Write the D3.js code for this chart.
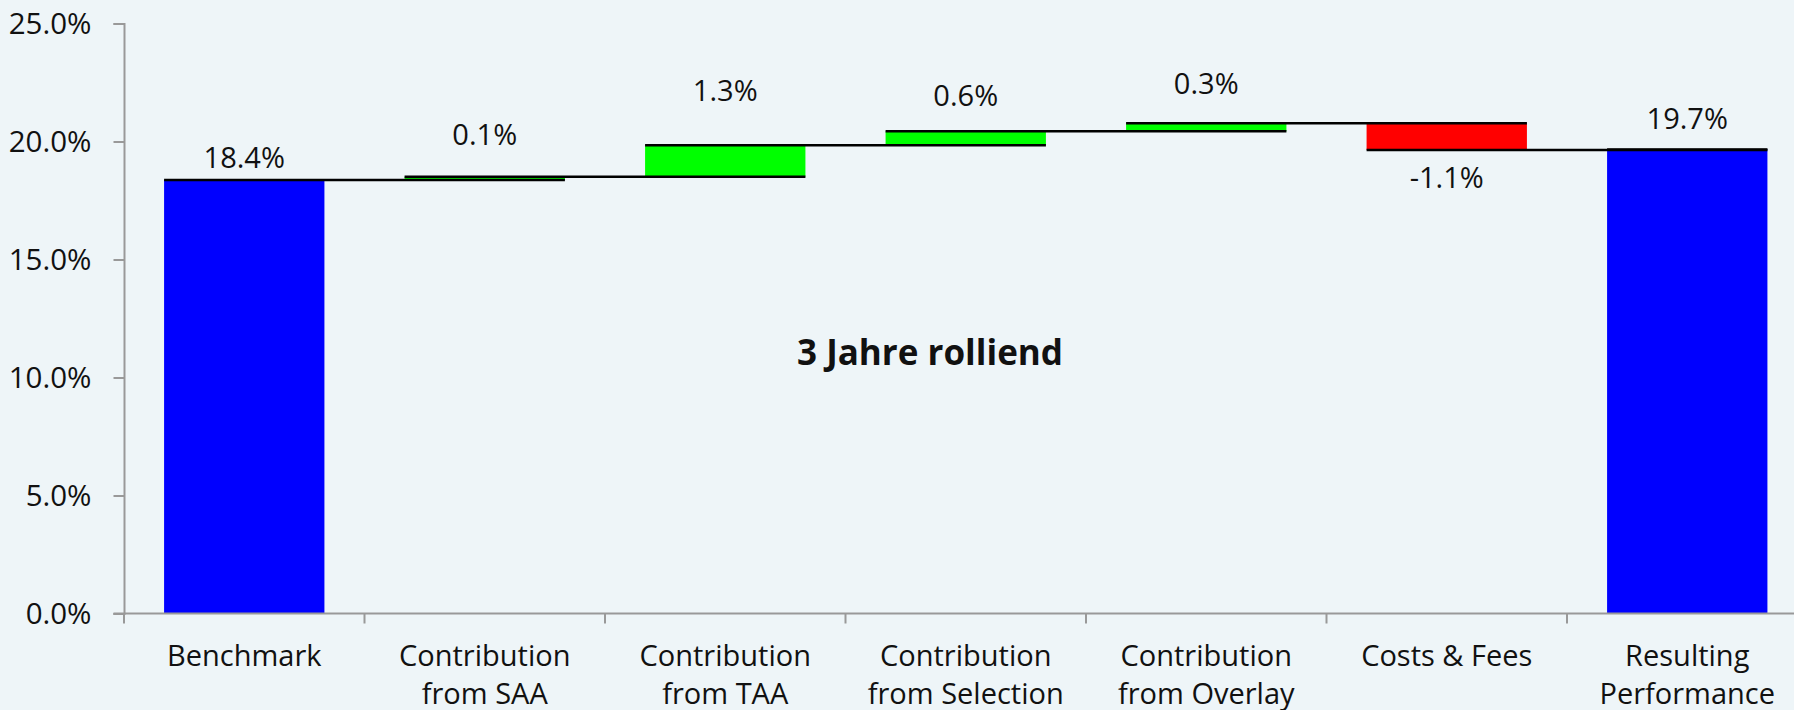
<!DOCTYPE html>
<html>
<head>
<meta charset="utf-8">
<script src="https://cdn.jsdelivr.net/npm/d3@7"></script>
<style>
  html, body { margin: 0; padding: 0; background: #eef5f8; }
  svg { display: block; }
  text { font-family: "Open Sans", "Noto Sans", sans-serif; fill: #111; }
</style>
</head>
<body>
<svg id="chart" width="1794" height="710"></svg>
<script>
// ---- data ----
const categories = ["Benchmark", "Contribution\nfrom SAA", "Contribution\nfrom TAA", "Contribution\nfrom Selection", "Contribution\nfrom Overlay", "Costs & Fees", "Resulting\nPerformance"];
const values = [18.37, 0.14, 1.33, 0.59, 0.34, -1.13, 19.67];
const kinds = ["total", "delta", "delta", "delta", "delta", "delta", "total"];
const yTicks = [0, 5, 10, 15, 20, 25];
const title = "3 Jahre rolliend";

// ---- layout / style (not data) ----
const labelGap = [12, 32, 44, 25, 29, 38, 20];
const colors = { total: "#0000ff", up: "#00ff00", down: "#ff0000" };
const FS = 29;

const svg = d3.select("#chart");
const W = 1794, H = 710;
svg.append("rect").attr("width", W).attr("height", H).attr("fill", "#eef5f8");

const x0 = 124, step = 240.5;
const x = d3.scaleBand().domain(categories).range([x0, x0 + step * categories.length]).paddingInner(0).paddingOuter(0);
const y = d3.scaleLinear().domain([0, 25]).range([613.5, 23.5]);

// compute bar extents
let running = 0;
const bars = categories.map((c, i) => {
  let lo, hi, end;
  if (kinds[i] === "total") {
    lo = 0; hi = values[i]; end = values[i]; running = values[i];
  } else {
    const start = running; end = running + values[i]; running = end;
    lo = Math.min(start, end); hi = Math.max(start, end);
  }
  const color = kinds[i] === "total" ? colors.total : (values[i] >= 0 ? colors.up : colors.down);
  return { c, i, lo, hi, end, v: values[i], color };
});

const bw = x.bandwidth() * 2 / 3;
const bx = c => x(c) + x.bandwidth() / 6;

// bars
svg.append("g").selectAll("rect").data(bars).join("rect")
  .attr("x", d => bx(d.c))
  .attr("width", bw)
  .attr("y", d => y(d.hi))
  .attr("height", d => Math.max(1, y(d.lo) - y(d.hi)))
  .attr("fill", d => d.color);

// connector lines
svg.append("g").selectAll("line").data(bars.slice(0, -1)).join("line")
  .attr("x1", d => bx(d.c))
  .attr("x2", d => bx(categories[d.i + 1]) + bw)
  .attr("y1", d => y(d.end))
  .attr("y2", d => y(d.end))
  .attr("stroke", "#000")
  .attr("stroke-width", 2.5);
// top line on final total
svg.append("line")
  .attr("x1", bx(categories[6])).attr("x2", bx(categories[6]) + bw)
  .attr("y1", y(values[6])).attr("y2", y(values[6]))
  .attr("stroke", "#000").attr("stroke-width", 2);

// y axis
const yAxis = d3.axisLeft(y).tickValues(yTicks).tickFormat(d => d.toFixed(1) + "%").tickSize(10.5).tickPadding(22);
const gy = svg.append("g").attr("transform", `translate(${x0},0)`).call(yAxis);
gy.select(".domain").attr("stroke", "#999").attr("stroke-width", 2);
gy.selectAll(".tick line").attr("stroke", "#999").attr("stroke-width", 2);
gy.selectAll(".tick text").attr("font-size", 29.5).attr("font-family", "Open Sans").attr("fill", "#111").attr("dy", "0.35em");

// x axis
const axisY = y(0);
svg.append("line").attr("x1", x0 - 10.5).attr("x2", W).attr("y1", axisY).attr("y2", axisY)
  .attr("stroke", "#999").attr("stroke-width", 2);
const boundaries = categories.map(c => x(c)).concat([x.range()[1]]);
svg.append("g").selectAll("line").data(boundaries).join("line")
  .attr("x1", d => d).attr("x2", d => d)
  .attr("y1", axisY).attr("y2", axisY + 10)
  .attr("stroke", "#999").attr("stroke-width", 2);

const xl = svg.append("g").selectAll("text").data(categories).join("text")
  .attr("text-anchor", "middle")
  .attr("font-size", FS)
  .attr("x", d => x(d) + x.bandwidth() / 2)
  .attr("y", axisY + 52.5);
xl.each(function(d) {
  const lines = d.split("\n");
  d3.select(this).selectAll("tspan").data(lines).join("tspan")
    .attr("x", x(d) + x.bandwidth() / 2)
    .attr("dy", (l, k) => k === 0 ? 0 : 37.5)
    .text(l => l);
});

// value labels
svg.append("g").selectAll("text").data(bars).join("text")
  .attr("text-anchor", "middle")
  .attr("font-size", FS)
  .attr("x", d => bx(d.c) + bw / 2)
  .attr("y", d => d.v >= 0 ? y(d.hi) - labelGap[d.i] : y(d.lo) + labelGap[d.i])
  .text(d => d.v.toFixed(1) + "%");

// title
svg.append("text")
  .attr("x", 930).attr("y", 365)
  .attr("text-anchor", "middle")
  .attr("font-size", 35).attr("font-weight", "bold")
  .text(title);
</script>
</body>
</html>
